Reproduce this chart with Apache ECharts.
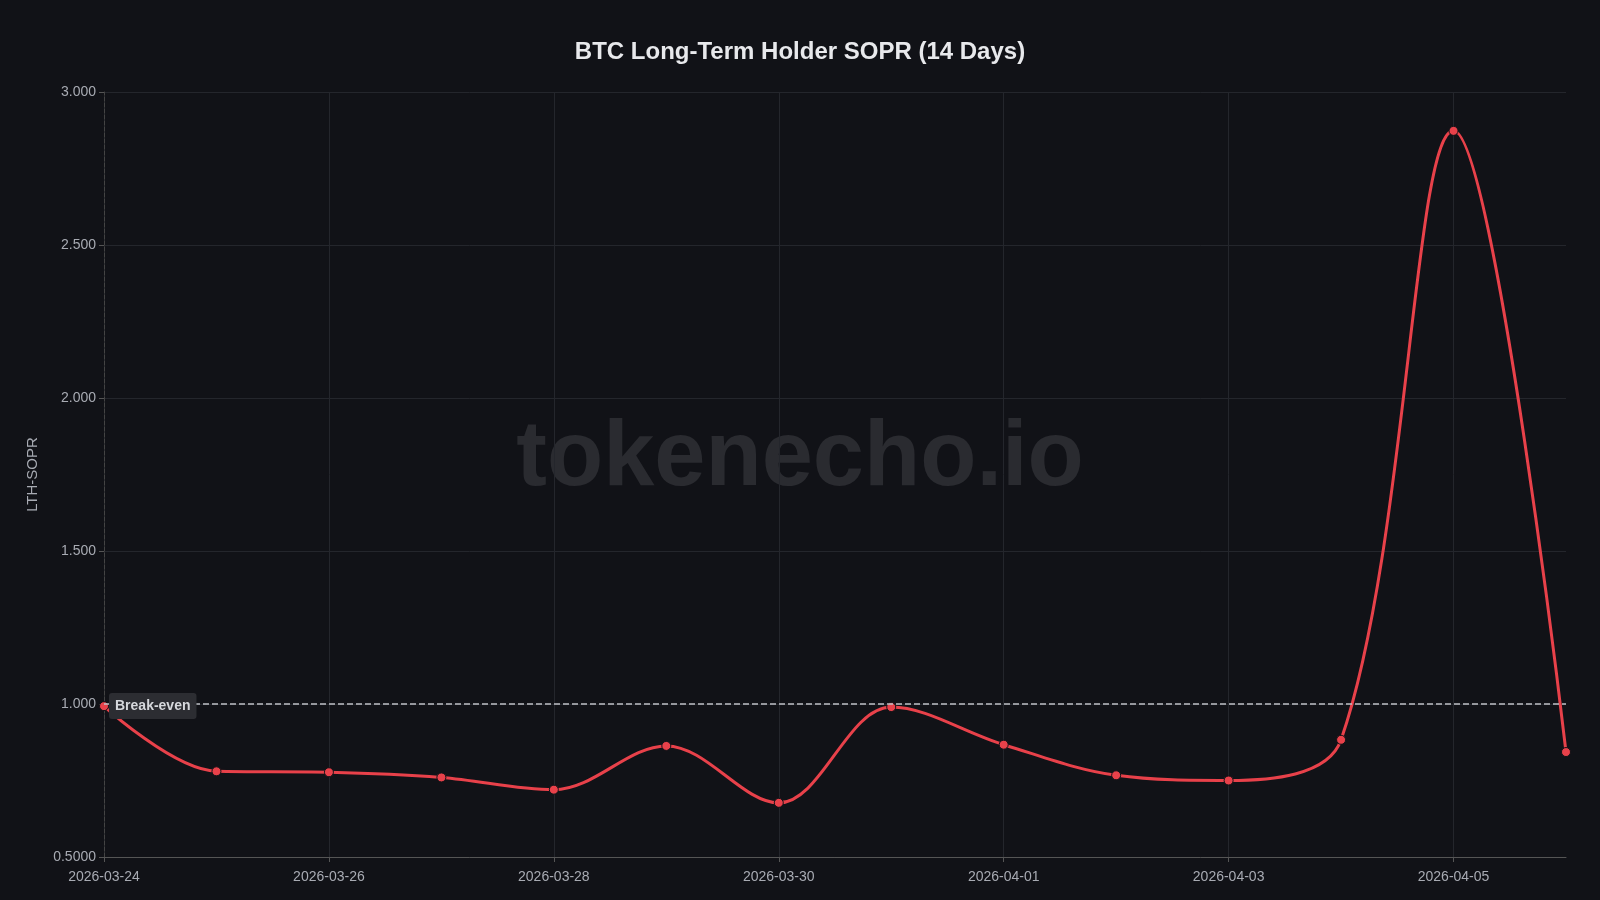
<!DOCTYPE html>
<html><head><meta charset="utf-8">
<script src="https://cdn.jsdelivr.net/npm/echarts@6/dist/echarts.min.js"></script>
<style>html,body{margin:0;background:#111217}#c{width:1600px;height:900px}</style>
</head><body><div id="c"></div>
<script>
const dates = ['2026-03-24','2026-03-25','2026-03-26','2026-03-27','2026-03-28','2026-03-29','2026-03-30','2026-03-31','2026-04-01','2026-04-02','2026-04-03','2026-04-04','2026-04-05','2026-04-06'];
const sopr = [0.993,0.780,0.777,0.760,0.720,0.863,0.677,0.990,0.867,0.767,0.750,0.883,2.873,0.843];
const breakEven = 1.0;
const chart = echarts.init(document.getElementById('c'));
chart.setOption({
  backgroundColor:'#111217',
  title:{text:'BTC Long-Term Holder SOPR (14 Days)',left:'center',top:35,textStyle:{color:'#e8e9ec',fontSize:24,fontWeight:'bold',fontFamily:'Liberation Sans, Arial'}},
  graphic:[{type:'text',left:'center',top:414,z:0,style:{text:'tokenecho.io',fill:'#2a2b30',font:'bold 92px Liberation Sans, Arial'}}],
  grid:{left:104,right:34,top:92,bottom:43},
  xAxis:{type:'category',data:dates,boundaryGap:false,
    axisLine:{lineStyle:{color:'#555'}},axisTick:{show:true,interval:1,lineStyle:{color:'#555'}},
    axisLabel:{interval:1,margin:13,color:'#a8abb3',fontSize:14,fontFamily:'Liberation Sans, Arial'},
    splitLine:{show:true,interval:1,lineStyle:{color:'#24262c'}}},
  yAxis:{type:'value',min:0.5,max:3,interval:0.5,name:'LTH-SOPR',nameLocation:'middle',nameGap:64,
    nameTextStyle:{color:'#a8abb3',fontSize:15,fontFamily:'Liberation Sans, Arial'},
    axisLine:{show:true,lineStyle:{color:'#444',type:'dashed'}},axisTick:{show:true,lineStyle:{color:'#555'}},
    axisLabel:{color:'#a8abb3',fontSize:14,fontFamily:'Liberation Sans, Arial',formatter:v=>v===0.5?'0.5000':v.toFixed(3)},
    splitLine:{lineStyle:{color:'#24262c'}}},
  series:[{type:'line',data:sopr,smooth:0.35,symbol:'circle',symbolSize:9,
    lineStyle:{color:'#e8414a',width:3},itemStyle:{color:'#e8414a',borderColor:'#111217',borderWidth:1},
    markLine:{silent:true,symbol:'none',data:[{yAxis:breakEven}],
      lineStyle:{color:'#bfc1c6',type:'dashed',width:1.5},
      label:{position:'insideStartTop',formatter:'Break-even',color:'#d6d8dc',fontWeight:'bold',fontSize:14,
        backgroundColor:'#2c2d32',padding:[6,6],borderRadius:3,offset:[0,20],fontFamily:'Liberation Sans, Arial'}}}]
});
</script></body></html>
